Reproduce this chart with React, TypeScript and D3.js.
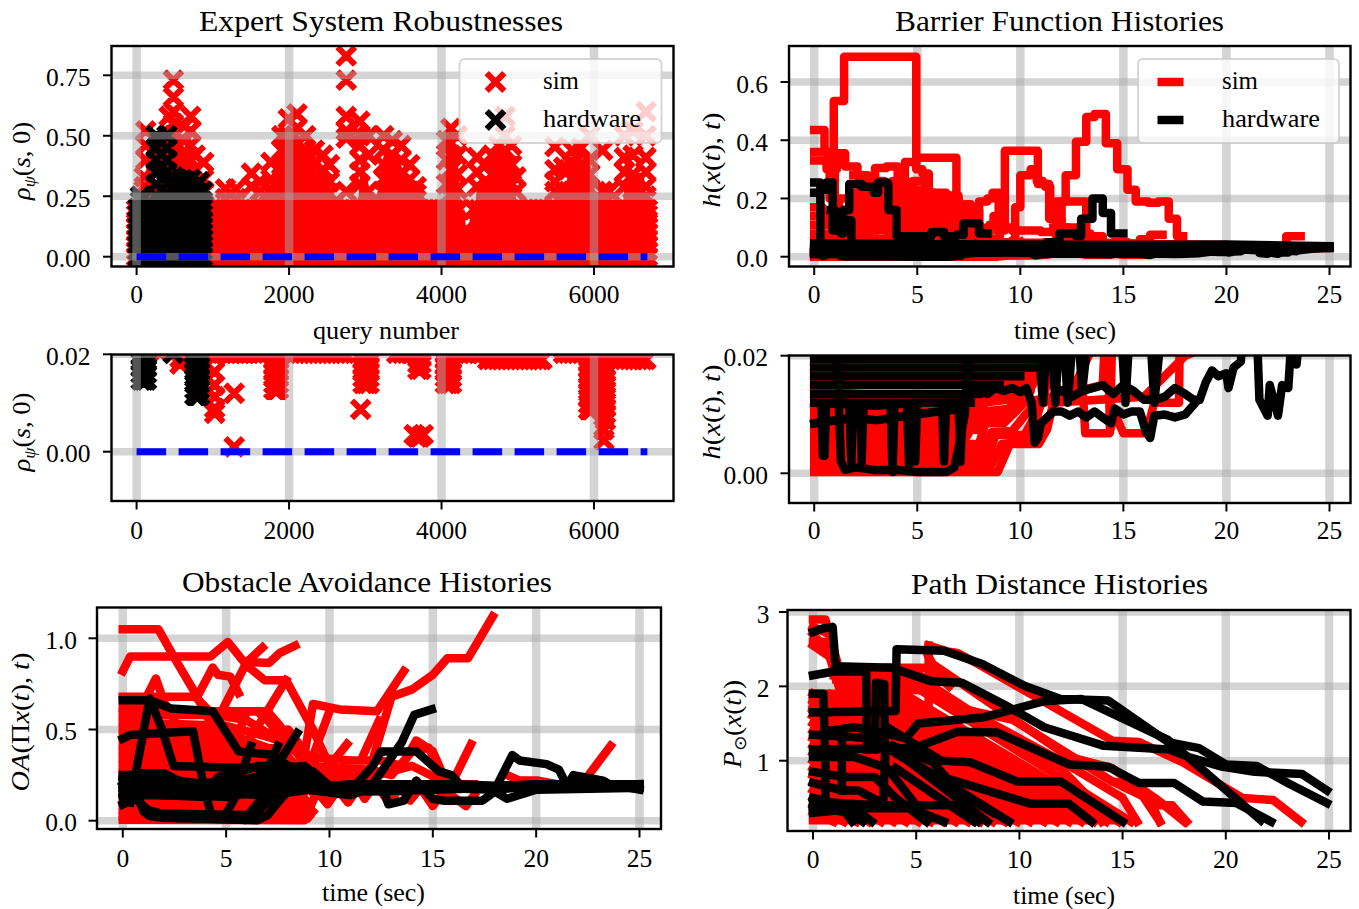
import React from "react";
import * as d3 from "d3";

// ---------- categories / ticks ----------
const queryTicks = [0, 2000, 4000, 6000];
const timeTicks = [0, 5, 10, 15, 20, 25];
const robustTicks = [0, 0.25, 0.5, 0.75];
const robustZoomTicks = [0, 0.02];
const barrierTicks = [0, 0.2, 0.4, 0.6];
const oaTicks = [0, 0.5, 1];
const pathTicks = [1, 2, 3];
const legendNames = ["sim", "hardware"];

// ---------- Expert system robustness (query, value) ----------
const simBaseX = [0,130,260,390,520,650,780,910,1040,1170,1300,1430,1560,1690,1820,1950,2080,2210,2340,2470,2600,2730,2860,2990,3120,3250,3380,3510,3640,3770,3900,4030,4160,4290,4360,4490,4620,4750,4880,5010,5140,5270,5400,5530,5660,5790,5920,6050,6180,6310,6440,6570,6700];
const simBaseMidX = [65,195,325,455,585,715,845,975,1105,1235,1365,1495,1625,1755,1885,2015,2145,2275,2405,2535,2665,2795,2925,3055,3185,3315,3445,3575,3705,3835,3965,4095,4225,4425,4555,4685,4815,4945,5075,5205,5335,5465,5595,5725,5855,5985,6115,6245,6375,6505,6635];
const simBaseRows = [0, 0.05, 0.1];
const simTopX = [0,130,260,390,520,650,780,910,1040,1170,1300,1430,1560,1690,1820,1950,2080,2210,2340,2470,2600,2730,2860,2990,3120,3250,3380,3510,3640,3770,3900,4030,4160,4490,4620,4750,4880,5010,5140,5270,5400,5530,5660,5790,5920,6050,6180,6310,6440,6570,6700];
const simTopRows = [0.15, 0.195];
const simMidRows = [0, 0.195];
const simEdgeX = [0, 6700];
const simEdgeRows = [0.025, 0.075, 0.125, 0.175];
const simMassX = [0,100,140,200,256,400,483,560,625,710,770,880,950,1500,1620,1763,1850,1990,2104,2218,2332,2445,2530,2600,2900,2950,3042,3120,3241,3355,3469,3583,3668,3800,4050,4066,4123,4208,4260,4300,4320,4360,4380,4440,4464,4578,4663,4749,4834,4919,5000,5500,5520,5602,5715,5829,5943,6000,6030,6380,6398,6512,6650,6700];
const simMassTop = [0.195,0.2,0.45,0.3,0.3,0.4,0.6,0.5,0.45,0.5,0.38,0.28,0.195,0.195,0.25,0.3,0.36,0.48,0.52,0.44,0.36,0.34,0.27,0.195,0.2,0.42,0.3,0.195,0.42,0.42,0.38,0.28,0.22,0.195,0.195,0.36,0.48,0.42,0.195,0.195,0.12,0.12,0.195,0.195,0.3,0.3,0.35,0.4,0.44,0.36,0.195,0.195,0.3,0.28,0.38,0.4,0.4,0.3,0.195,0.195,0.3,0.34,0.35,0.195];
const simColumns: [number, number[]][] = [
  [100,[0.33,0.29]],[120,[0.52,0.46,0.4]],[256,[0.42,0.35]],[426,[0.58,0.5,0.42]],[483,[0.73,0.66,0.6,0.55,0.5,0.45,0.4,0.35,0.3]],
  [625,[0.54,0.48,0.38]],[710,[0.58,0.52,0.46,0.4,0.34,0.28]],[770,[0.42,0.36]],[880,[0.39,0.32,0.27]],
  [1166,[0.28,0.24]],[1308,[0.28,0.24]],[1507,[0.345,0.29]],[1620,[0.31,0.27]],[1763,[0.39,0.32,0.27]],[1905,[0.5,0.44,0.38,0.32,0.27]],
  [1990,[0.57,0.5,0.44,0.38,0.32]],[2104,[0.59,0.53,0.47,0.41,0.35,0.29]],[2218,[0.5,0.44,0.38,0.32,0.27]],[2332,[0.44,0.38,0.32,0.27]],
  [2445,[0.42,0.36,0.3]],[2530,[0.38,0.31,0.26]],[2750,[0.83,0.73,0.58,0.52,0.49,0.27]],[2929,[0.56,0.5,0.46,0.4,0.35,0.3]],[3042,[0.5,0.42,0.27]],
  [3241,[0.5,0.44,0.38,0.32,0.27]],[3355,[0.48,0.42,0.36,0.3]],[3469,[0.46,0.4,0.34,0.28]],[3583,[0.38,0.32,0.27]],[3668,[0.29,0.26]],
  [4066,[0.48,0.4,0.3]],[4123,[0.53,0.47,0.42,0.36,0.3,0.26]],[4208,[0.5,0.42,0.34,0.28]],[4464,[0.41,0.35,0.29]],[4578,[0.38,0.31]],
  [4663,[0.42,0.34,0.28]],[4749,[0.46,0.4,0.35,0.3]],[4834,[0.58,0.5,0.44,0.38,0.32,0.27]],[4919,[0.46,0.38,0.3]],[4976,[0.33,0.27]],
  [5488,[0.455,0.36,0.31,0.27]],[5602,[0.37,0.27]],[5715,[0.44,0.38,0.32,0.27]],[5829,[0.45,0.38,0.32,0.27]],[5943,[0.5,0.4,0.34,0.28]],
  [6113,[0.44,0.27]],[6199,[0.27]],[6398,[0.5,0.41,0.35,0.29]],[6512,[0.52,0.42,0.34,0.28]],[6682,[0.6,0.5,0.41,0.35,0.29,0.25]],
];
const hwBaseX = [20,75,130,185,240,295,350,405,460,515,570,625,680,735,790,845,864];
const hwBaseRows = [0, 0.05, 0.1, 0.15, 0.2];
const hwEdgeX = [20, 864];
const hwEdgeRows = [0.025, 0.075, 0.125, 0.175];
const hwMassX = [20, 256, 398, 483, 864];
const hwMassTop = [0.2, 0.2, 0.2, 0.22, 0.2];
const hwColumns: [number, number[]][] = [
  [50,[0.25,0.23]],[150,[0.22]],[256,[0.5,0.45,0.4,0.35,0.3,0.25]],[300,[0.48,0.36]],[398,[0.5,0.45,0.4,0.35,0.3,0.26]],
  [483,[0.33,0.28]],[540,[0.3,0.26]],[600,[0.32,0.27]],[660,[0.3,0.26]],[710,[0.32,0.27]],[770,[0.29,0.25]],[825,[0.31,0.26]],[864,[0.27,0.23]],
];
const zeroLineEnds = [0, 6700];

// ---------- robustness close to zero ----------
const stackTall = [0.0128,0.014,0.0152,0.0164,0.0176,0.0188,0.02,0.0212];
const stackMid = [0.014,0.0152,0.0164,0.0176,0.0188,0.02,0.0212];
const stackShort = [0.0169,0.0181,0.0193,0.0205];
const stackDeep = [0.0086,0.0098,0.011,0.0122,0.0134,0.0146,0.0158,0.017,0.0182,0.0194,0.0206];
const stackBlack = [0.0147,0.016,0.0172,0.0184,0.0196,0.021];
const stackBlackDeep = [0.0116,0.0128,0.014,0.0152,0.0164,0.0176,0.0188,0.02,0.0212];
const simZoomColumns: [number, number[]][] = [
  [310,[0.0202]],[570,[0.018,0.0192]],[1024,[0.0164,0.0137,0.0113,0.0089,0.0079,0.0195]],
  [1280,[0.012,0.001]],
  [1800,stackTall],[1830,stackTall],[1860,stackTall],
  [2940,[0.0087]],[2970,stackMid],[3010,stackMid],[3050,stackMid],
  [3640,[0.0035]],[3680,[0.003]],[3720,[0.003]],[3760,[0.0035]],[3690,stackShort],[3730,stackShort],
  [4050,stackMid],[4090,stackMid],[4130,stackMid],[5400,[0.0215]],
  [5930,stackDeep],[5970,stackDeep],
  [6130,[0.0045,0.0024]],[6150,[0.0065,0.0078,0.009,0.0102,0.0114,0.0126,0.0138,0.015,0.0162,0.0175,0.019,0.0205]],
];
const simZoomRowHighX = [1000,1060,1120,1180,1240,1300,1360,1420,1480,1540,1600,2080,2140,2200,2260,2320,2380,2440,2500,2560,2620,2680,2730,3412,3480,3540,3611,4237,4300,4360,4420,4480,4521,5600,5660,5720,5780,5840,5900,6020,6090,6170];
const simZoomRowLowX = [4606,4670,4730,4790,4850,4910,4970,5030,5090,5150,5210,5270,5317,6340,6400,6460,6520,6580,6640,6680];
const simZoomRowHigh = [0.0202];
const simZoomRowLow = [0.0189];
const hwZoomColumns: [number, number[]][] = [
  [60,stackBlack],[95,stackBlack],[130,stackBlack],[480,[0.0202]],
  [765,stackBlackDeep],[795,stackBlackDeep],[825,stackBlackDeep],
];

// ---------- barrier function histories: flat t,v lists ----------
const simBarrierSteps = [
  [0,0.02,0.95,0.535,1.45,0.687,4.95,0.3,5.25,0.286,5.56,0.22,6.4,0.19,7,0.15,7.6,0.1,8.2,0.05,9,0.02],
  [0,0.435,0.5,0.36,0.75,0.2,1,0.1,1.5,0.05],
  [0,0.36,0.7,0.3,1.1,0.355,1.5,0.31,2.1,0.28,2.6,0.24,3.1,0.14,3.6,0.05],
  [0,0.33,0.6,0.3,1,0.16,1.6,0.09,2,0.05],
  [2.8,0.24,2.95,0.305,3.5,0.31,4.05,0.25,4.4,0.325,4.95,0.34,6.9,0.15,7.3,0.05],
  [8.9,0.09,9.25,0.364,10.85,0.25,11.2,0.24,11.45,0.13,12,0.08,12.5,0.03],
  [7.6,0.05,8,0.19,8.4,0.2,8.65,0.22,8.95,0.1,9.6,0.09,10.5,0.09,11,0.085,12,0.1,12.9,0.07,13.3,0.03],
  [9.2,0.05,9.75,0.17,10,0.28,10.5,0.3,10.8,0.26,11.1,0.25,11.4,0.13,11.95,0.1,12.3,0.03],
  [11.3,0.05,11.75,0.19,12.2,0.28,12.7,0.395,13.2,0.48,13.6,0.49,14.15,0.39,14.7,0.3,15.2,0.23,15.6,0.19,16.2,0.185,16.7,0.19,17.2,0.13,17.6,0.07,17.9,0.07],
  [11.6,0.1,12,0.19,12.95,0.19,13.2,0.08,13.4,0.07,14,0.03],
  [22.7,0.03,22.9,0.07,23.6,0.07],
  [15.6,0.03,15.8,0.06,16.3,0.075,16.9,0.075],
  [14.5,0.03,14.5,0.05,15.1,0.05],
  [0,0.17,0.4,0.12,1.2,0.2,1.8,0.18,2.4,0.22,3,0.2,3.6,0.16,4.2,0.2,4.8,0.26,5.4,0.18,6,0.2,6.6,0.17,7.3,0.15,7.9,0.05],
  [0,0.14,0.8,0.13,1.4,0.15,2,0.17,2.6,0.19,3.2,0.22,3.8,0.26,4.5,0.22,5,0.19,5.8,0.21,6.6,0.21,7,0.17,7.4,0.11,7.9,0.03],
  [0,0.11,1,0.09,1.6,0.12,2.2,0.14,2.8,0.15,3.4,0.14,4,0.17,4.6,0.15,5.2,0.16,6,0.16,7,0.14,7.6,0.16,8,0.07],
  [0,0.08,1,0.07,1.7,0.1,2.4,0.11,3,0.12,3.6,0.1,4.2,0.13,5,0.12,5.6,0.13,6.5,0.12,7.2,0.1,7.9,0.04],
  [0,0.06,1.8,0.08,2.4,0.09,3,0.09,3.8,0.085,4.6,0.1,5.4,0.1,6,0.09,7,0.07,8,0.06,8.8,0.05],
  [0,0.05,2,0.065,3,0.06,4,0.07,5,0.08,6,0.075,7,0.08,8,0.08,8.5,0.11,8.7,0.14,9,0.05],
  [1.9,0.28,2.2,0.1,2.5,0.27,2.8,0.1,3.1,0.26,3.4,0.12,3.7,0.24,4,0.1,4.3,0.22,4.6,0.1,4.9,0.23,5.2,0.1,5.5,0.22,5.8,0.1,6.1,0.2,6.4,0.1,6.7,0.2,7,0.08,7.3,0.18,7.6,0.05],
  [1.75,0.22,2.05,0.12,2.35,0.24,2.65,0.11,2.95,0.22,3.25,0.1,3.55,0.25,3.85,0.12,4.15,0.26,4.45,0.11,4.75,0.2,5.05,0.1,5.35,0.19,5.65,0.1,5.95,0.18,6.25,0.1,6.55,0.18,6.85,0.08,7.15,0.15,7.45,0.05],
];
const simBarrierLow = [
  [0,0.0002,8.9,0.0002,9.5,0.005,10.9,0.005,11.3,0.0075,11.6,0.012,16,0.013,18,0.02,25,0.03],
  [0,0.0014,8.6,0.0014,9.1,0.005,10.5,0.0055,11,0.012,13,0.016,13.15,0.0068,14.3,0.0068,14.6,0.01,15,0.0068,16.1,0.0068,16.5,0.012,17.7,0.012,17.75,0.03,19,0.035],
  [0,0.0026,8.4,0.0026,8.8,0.0065,10.2,0.0065,10.9,0.011,12.3,0.025,15,0.03],
  [0,0.0038,8.2,0.0038,8.6,0.007,9.6,0.0072,10.5,0.011,12.5,0.014,14,0.025,17.5,0.03],
  [0,0.005,8,0.005,8.3,0.0085,9.2,0.0085,10.2,0.012,14,0.015,14.2,0.03,14.35,0.007,14.5,0.03,18,0.04],
  [0,0.0062,7.4,0.0062,7.9,0.0095,9,0.0095,10,0.013,12,0.025,15.5,0.035],
  [0,0.0074,7.9,0.0074,8.2,0.0105,9.5,0.011,10,0.014,12.5,0.03,16,0.04],
  [0,0.0086,7.8,0.0086,8.1,0.012,9.4,0.0125,10.6,0.016,13,0.028,15.5,0.04],
  [0,0.0098,8,0.0098,8.4,0.013,10,0.013,10.8,0.02,12,0.04,15,0.045],
  [0,0.011,8,0.011,8.8,0.014,10.5,0.014,11,0.03,13,0.04],
  [0,0.0122,8,0.0122,9,0.015,10.6,0.015,11,0.04,14,0.045],
  [0,0.0134,8,0.0134,10,0.016,10.8,0.017,11.2,0.035,15.3,0.038],
  [0,0.0146,10,0.0165,11,0.03,12,0.045],
  [0,0.0158,10.5,0.018,11,0.04],
  [0,0.017,10,0.019,11,0.045],
  [0,0.0182,9,0.02,10,0.05],
  [0,0.0194,9,0.021,9.5,0.05],
  [0,0.025,6,0.03,12,0.03,16.5,0.03,21,0.03],
  [0,0.035,6,0.04,12,0.04,14.8,0.045,19.8,0.04],
  [0,0.045,8,0.048,14,0.048,18,0.04],
];
const hwBarrierSteps = [
  [0,0.255,0.3,0.23,0.6,0.255,0.9,0.09,1.3,0.08,1.4,0.16,1.7,0.25,2.3,0.24,2.9,0.22,3.1,0.255,3.55,0.25,3.6,0.16,4,0.07,5.4,0.07,5.7,0.085,6.3,0.07,6.9,0.075,7.25,0.115,8,0.08,8.4,0.08],
  [0.8,0.16,1,0.1,1.3,0.125,1.8,0.04],
  [10.5,0.03,11.3,0.05,11.9,0.08,12.7,0.07,12.95,0.13,13.5,0.2,14,0.15,14.4,0.08,15,0.08],
  [0,0.22,0.3,0.04],
];
const hwBarrierLow = [
  [0,0.03,0.9,0.03,1.1,0.02,1.3,0.002,1.5,0.0006,2,0.001,2.5,0.0008,3,0.0005,4,0.0006,5,0.0002,6.4,0.0002,6.8,0.001,7.1,0.006,7.3,0.01,7.5,0.02,7.8,0.04],
  [0,0.0085,2,0.0095,3,0.009,4.5,0.0098,6,0.0105,7.3,0.011],
  [0,0.012,3,0.0115,5,0.012,7.6,0.012],
  [0,0.0135,4,0.0135,8,0.0135],
  [0,0.015,9,0.015],
  [0,0.0165,10,0.0165],
  [0,0.018,10.6,0.018],
  [0,0.0195,11,0.0195],
  [0.35,0.012,0.42,0.003,0.5,0.003,0.58,0.012,1.7,0.012,1.8,0.002,1.9,0.012,2.25,0.012,2.3,0.002,2.4,0.012,3.7,0.012,3.8,0.0002,3.9,0.012,4.5,0.012,4.6,0.0015,4.7,0.012,4.85,0.012,4.9,0.002,5,0.012,6.2,0.012,6.3,0.002,6.4,0.012,7,0.012,7.1,0.002,7.2,0.012],
  [7.6,0.0135,8,0.0145,8.4,0.0135,8.8,0.0145,9.2,0.014,9.6,0.0145,10,0.0138,10.3,0.0145,10.55,0.012,10.7,0.0052,10.85,0.006,11,0.0085,11.3,0.0095,11.6,0.0105,12,0.0105,12.4,0.0098,12.8,0.0105,13.2,0.0095,13.6,0.0105,14,0.0095,14.4,0.0085,14.6,0.011,15,0.01,15.4,0.0105,15.8,0.0105,16.1,0.007,16.3,0.006,16.5,0.0098,17,0.01,17.5,0.0095,18,0.01,18.5,0.012],
  [12,0.014,12.5,0.013,13,0.014,13.5,0.0145,14,0.015,14.5,0.0135,15,0.015,15.5,0.014,16,0.0125,16.5,0.0125,17,0.013,17.5,0.0145,18,0.0135,18.4,0.0125,18.7,0.0125,19,0.0155,19.3,0.0175,19.6,0.0165,20,0.017,20.1,0.0145,20.35,0.018,20.7,0.019,20.8,0.025,21.5,0.022,21.6,0.0125,22,0.0098,22.1,0.015,22.5,0.0098,22.7,0.015,23,0.0145,23.1,0.02,23.4,0.0185,23.5,0.022,25,0.034],
  [10.8,0.025,11.1,0.012,11.4,0.03,11.7,0.012,12,0.03,12.3,0.012,12.7,0.03,13,0.014,13.5,0.03,14.8,0.03,15.1,0.012,15.4,0.03,16.2,0.03,16.5,0.012,17,0.03],
  [0,0.045,15,0.04,20,0.042,25,0.036],
  [0,0.035,16,0.03,20,0.032,25,0.033],
  [0,0.027,10,0.024,17,0.022,22,0.026,25,0.03],
];

// ---------- obstacle avoidance ----------
const simOA = [
  [0,1.05,1.72,1.05,2.56,0.88,3.5,0.7,4.4,0.5,5,0.45],
  [0,0.82,0.36,0.9,4.24,0.9,5.08,0.98,6,0.85,6.87,0.77,7.9,0.77,9.2,0.5,10,0.3,11,0.2],
  [3.6,0.68,4.35,0.84,4.6,0.8,5.2,0.79,5.6,0.7],
  [4.56,0.55,6,0.87,6.76,0.95],
  [6,0.87,7.08,0.865,7.6,0.92,8.34,0.96],
  [0.8,0.6,1.6,0.78,2,0.65,2.5,0.55],
  [5.9,0.4,7.9,0.77],
  [8.7,0.3,9.2,0.64,10.5,0.61,12.3,0.6,13.6,0.82],
  [8.7,0.2,10,0.6],
  [11.6,0.35,12.4,0.55],
  [12,0.3,13,0.68,14,0.72,15,0.8,15.7,0.89,16.7,0.89,17.9,1.12],
  [15.9,0.2,16.85,0.42],
  [22.2,0.2,23.6,0.41],
  [18.6,0.25,19.2,0.22,20.1,0.22,21,0.2],
  [10,0.3,10.85,0.42],
  [5,0.3,6,0.6,7,0.6,7.6,0.52,8.2,0.42,8.8,0.3],
  [0,0.68,3.5,0.68,4.2,0.6,5.5,0.3],
  [0,0.62,4,0.6,6.5,0.6,7,0.55,9,0.3,11,0.2],
  [0,0.58,4.5,0.58,6,0.55,7,0.48,8,0.5,9,0.35,10.5,0.15,11,0.18],
  [0,0.54,5,0.52,7,0.46,8,0.42,9.2,0.3],
  [0,0.5,5,0.48,7,0.4,8.6,0.38,9.5,0.25],
  [0,0.46,6,0.44,8,0.35,9,0.22],
  [0,0.42,6.5,0.4,8.4,0.3,9,0.18],
  [0,0.38,7,0.36,8.5,0.26,9.2,0.15],
  [0,0.34,7,0.32,8.7,0.22],
  [0,0.3,7,0.28,8.7,0.2],
  [0,0.26,7,0.24,8.8,0.16],
  [0,0.22,8,0.2,8.8,0.12],
  [0,0.18,8,0.16,8.9,0.1],
  [0,0.14,8,0.12,9,0.06],
  [0,0.1,8,0.09,8.9,0.02],
  [0,0.06,8.7,0.05,9,0.02],
  [0,0.025,8.8,0.02],
  [0,0.005,8.8,0.003,9.2,0.05],
  [9,0.35,11,0.33,12.5,0.33,13.5,0.3,14.2,0.44,15,0.38,15.5,0.25],
  [9,0.3,12,0.28,13,0.25,14,0.38,14.8,0.4,15.3,0.28,16,0.2],
  [9,0.25,12,0.24,14,0.3,15.4,0.22,16.5,0.18],
  [9,0.2,15,0.2,17,0.2],
  [8.9,0.03,9.4,0.16,9.9,0.09,10.4,0.17,10.9,0.1,11.4,0.18,11.7,0.12,12.2,0.2,12.9,0.1,13.4,0.18,13.9,0.11,14.4,0.18,15,0.08,15.5,0.16,16,0.13,16.6,0.08,17,0.14],
];
const hwOA = [
  [0,0.66,1.3,0.66,2.35,0.615,4.35,0.6,5.6,0.38,7.3,0.36,8,0.3,9.2,0.27,10,0.19,10.9,0.15,12.1,0.3,12.5,0.38,14.2,0.38,15.3,0.27,15.9,0.25,16.3,0.2,18,0.19,20,0.2,25,0.2],
  [0,0.45,0.36,0.47,3.4,0.49,3.9,0.2,4.3,0.02,4.5,0.01,5.5,0.01],
  [0.36,0.1,1.3,0.67,1.9,0.5,2.46,0.3,5.4,0.29,7.8,0.29,8.8,0.3,9.6,0.22,10.4,0.16,11.5,0.17,12.5,0.19,15,0.18,18,0.17,20,0.19,25,0.18],
  [0,0.25,0.4,0.25,1,0.05,1.3,0.025,2,0.015,4,0.01,6.5,0.002,7,0.03,7.5,0.1,8.3,0.2,9,0.2,10.5,0.16],
  [0,0.2,0.6,0.26,2,0.26,3,0.2,4,0.18,5,0.17,6,0.2,7,0.22,8,0.25,9,0.24,10,0.18,12,0.18,14,0.2,16,0.2,18,0.17,20,0.2,25,0.19],
  [0,0.18,3,0.16,5,0.15,7,0.14,9,0.17,11,0.14,12.5,0.2,12.85,0.09,13.6,0.11,14.2,0.22,15,0.12,15.5,0.11,17.4,0.11,18,0.16,18.6,0.12,20,0.17,25,0.18],
  [0,0.15,2,0.14,4,0.13,4.6,0.24,5.5,0.26,6.5,0.3,7.5,0.3,8,0.24,10,0.19,11,0.2,12,0.2,15,0.2,18,0.19,21,0.2,24,0.19,25,0.17],
  [0,0.13,2,0.18,3.5,0.2,5,0.22,7,0.2,9,0.18],
  [0,0.09,0.6,0.12,1.2,0.06,1.8,0.04,6.4,0.03,6.8,0.08,7.4,0.15],
  [0,0.22,2,0.23,4,0.2,5.5,0.21,7,0.26,8.5,0.27,9.5,0.2,11,0.17],
  [0,0.24,1.5,0.2,3,0.18,5,0.19,7,0.18,9,0.21,10.5,0.18,13,0.19,16,0.18,20,0.18,25,0.2],
  [0,0.17,2,0.2,4,0.16,6,0.17,8,0.22,10,0.17,12,0.16,15,0.17,18,0.18],
  [1,0.14,3,0.14,5,0.13,7,0.17,9,0.2,10.5,0.15,12,0.17],
  [5.4,0.14,6.2,0.41],
  [4.9,0.02,5.8,0.2],
  [6.9,0.2,8.44,0.48],
  [6.5,0.14,7.5,0.41],
  [5.9,0.01,6.7,0.12,7,0.2],
  [12.1,0.2,13.5,0.43,14.1,0.58,14.95,0.61],
  [18,0.17,18.85,0.36,19.2,0.33,20.5,0.31,21.1,0.28,21.5,0.19,21.8,0.25,23.25,0.22,23.7,0.19,25,0.2],
];

// ---------- path distance ----------
const simPath = [
  [0,2.9,0.6,2.9,1.3,2.2,4,2.1,5,2,8,1.5,12,0.9,13.4,0.5,14,0.18],
  [0,2.8,0.8,2.7,1.2,2.2],
  [0,2.6,0.8,2.6,1.1,2.1],
  [1,2.25,3.7,2.25],
  [1,2.15,5.2,2.15,6,1.9],
  [0,2.7,1,2.4,1.5,2.05,5.5,2.05,8,1.6,12,1,15,0.5,15.7,0.18],
  [5.6,2.55,6.5,2.47,7,2.45,8,2.3,14.5,1.27,15.8,1.25,17.9,0.98,20.8,0.5,22.3,0.47,23.65,0.18],
  [5.6,2.4,5.8,2.3,12.4,1.05,14.5,0.9,16.8,0.45,18,0.18],
  [5.6,1.7,5.6,2.55],
  [5.5,1.95,6.5,1.75,8,1.65,9.7,1.55,14.5,0.72,16.3,0.48,16.8,0.18],
  [3.7,2.25,5.6,2.25,6.6,2],
  [9.7,1.55,14.5,0.72,15,0.7,16.8,0.4,17.4,0.4,18.1,0.18],
  [12,1,14.5,0.9,15.6,0.68,16.8,0.18],
  [0,2.55,0.8,2.4,1.3,1.95,5.2,1.95,15.4,0.18],
  [0,1.9,4.4,1.9,14.8,0.18],
  [0,1.85,3.8,1.9,14.2,0.18],
  [0,1.8,3.2,1.9,13.6,0.18],
  [0,1.75,2.6,1.9,13,0.18],
  [0,1.7,2,1.9,12.4,0.18],
  [0,1.65,1.4,1.9,11.8,0.18],
  [0,1.6,0.8,1.9,11.2,0.18],
  [0,1.9,10.5,0.18],
  [0,1.8,9.9,0.18],
  [0,1.7,9.3,0.18],
  [0,1.6,8.7,0.18],
  [0,1.5,8.1,0.18],
  [0,1.4,7.5,0.18],
  [0,1.3,6.9,0.18],
  [0,1.2,6.3,0.18],
  [0,1.1,5.7,0.18],
  [0,1,5.1,0.18],
  [0,0.9,4.5,0.18],
  [0,0.8,3.9,0.18],
  [0,0.7,3.3,0.18],
  [0,0.6,2.7,0.18],
  [0,0.5,2.1,0.18],
  [0,0.4,1.5,0.18],
  [0,0.3,1,0.18],
  [0,0.2,15,0.2],
];
const hwPath = [
  [0,2.73,0.5,2.78,0.95,2.8,1.1,2.27,3.8,2.25,5.7,2.07,7.2,2.05,9.3,1.75,11.2,1.45,14.1,1.2,17.25,1.15,18.2,1.05,19.8,0.92,21.4,0.85,23.7,0.82,24.9,0.6],
  [0,2.15,1,2.2,2.58,2.2,2.6,1.15],
  [0,1.65,4,1.67,4.05,2.5,6.35,2.48,8.2,2.3,10.3,2,12,1.83,14.3,1.81,17.2,1.25,18.7,1.17,20,0.95,21.5,0.93,23,0.7,24.9,0.43],
  [0,1.9,0.5,1.9,0.6,1,0.6,0.5],
  [0.7,1.4,2,1.45,3,1.4,4.5,1.3,5.1,1.5,8.2,1.58,11.2,1.8,13,1.83,17.2,1.28,21.7,0.2],
  [0,1.15,4.9,1.17,7,1.39,8.9,1.38,12.4,0.95,14.3,0.92,15.8,0.7,17.5,0.7,18.9,0.45,20.5,0.43,22.2,0.18],
  [3.6,1.45,6.2,1,7.6,0.98,9.9,0.72,12,0.72,15,0.18],
  [3.9,1.2,5.8,0.98,6.5,0.76,10.55,0.42,12.4,0.42,13.5,0.18],
  [3.9,1.15,8.45,0.18],
  [3.6,1.2,9.5,0.18],
  [4,0.9,7.8,0.18],
  [0,0.45,3,0.4,6.9,0.4,8,0.18],
  [0,0.36,4.7,0.36,6.35,0.18],
  [0,0.3,1.5,0.34,2.4,0.18],
  [0,0.4,1.6,0.3,1.9,0.18],
  [0,0.5,2,0.36,2.85,0.18],
  [0,0.7,1.4,0.6,2.2,0.6,3.4,0.42,3.5,1.1],
  [3,1.15,3.05,2.05,3.45,2.03,3.5,0.9],
  [1.4,1.3,1.4,0.6],
  [0,1.05,2,1.05,3.6,0.9,5,0.4],
  [0,0.85,1.5,0.78,3,0.78,4,0.5,5.5,0.18],
  [0,1.35,3,1.3,4,1.1,8.7,0.3],
];

// ---------- layout ----------
const FONT = "'Liberation Serif', serif";
const RED = "#ff0000";
const BLACK = "#000000";
const BLUE = "#0000ff";
const TICK_SIZE = 25.5;
const LINE_W = 8.5;
const MARK_HALF = 8.8;
const MARK_W = 6;

type Box = { l: number; r: number; t: number; b: number };
const chunk = (a: number[]) => d3.range(0, a.length, 2).map((i) => [a[i], a[i + 1]] as [number, number]);

const box1: Box = { l: 111.5, r: 673.5, t: 46, b: 266.5 };
const box2: Box = { l: 789, r: 1350.5, t: 46, b: 266.5 };
const box3: Box = { l: 111.5, r: 673.5, t: 354.5, b: 501 };
const box4: Box = { l: 789, r: 1350.5, t: 355.5, b: 503 };
const box5: Box = { l: 97, r: 661, t: 607.5, b: 829 };
const box6: Box = { l: 787.5, r: 1350.5, t: 610, b: 831 };

const xQuery = d3.scaleLinear().domain([0, 6000]).range([136.6, 594]);
const yRobust = d3.scaleLinear().domain([0, 0.75]).range([256.7, 75.3]);
const yRobustZoom = d3.scaleLinear().domain([0, 0.02]).range([451.7, 354.3]);
const xBarrier = d3.scaleLinear().domain([0, 25]).range([814.2, 1329.5]);
const yBarrier = d3.scaleLinear().domain([0, 0.6]).range([256.7, 82]);
const yBarrierZoom = d3.scaleLinear().domain([0, 0.02]).range([473.3, 355.7]);
const xOA = d3.scaleLinear().domain([0, 25]).range([122.8, 639.5]);
const yOA = d3.scaleLinear().domain([0, 1]).range([820.7, 638.3]);
const xPath = d3.scaleLinear().domain([0, 25]).range([813, 1329]);
const yPath = d3.scaleLinear().domain([1, 3]).range([760.7, 612]);

function crosses(points: [number, number][], x: any, y: any, half = MARK_HALF) {
  const p = d3.path();
  for (const [a, b] of points) {
    const px = x(a), py = y(b);
    p.moveTo(px - half, py - half);
    p.lineTo(px + half, py + half);
    p.moveTo(px - half, py + half);
    p.lineTo(px + half, py - half);
  }
  return p.toString();
}
const cross = (xs: number[], ys: number[]) => xs.flatMap((a) => ys.map((b) => [a, b] as [number, number]));
const columns = (c: [number, number[]][]) => c.flatMap(([a, ys]) => ys.map((b) => [a, b] as [number, number]));

function Traces({ data, x, y, color, step = false }: any) {
  const gen = d3.line<[number, number]>().x((d) => x(d[0])).y((d) => y(d[1])).curve(step ? d3.curveStepAfter : d3.curveLinear);
  return (
    <g fill="none" stroke={color} strokeWidth={LINE_W} strokeLinejoin="round" strokeLinecap="square">
      {data.map((t: number[], i: number) => <path key={i} d={gen(chunk(t)) as string} />)}
    </g>
  );
}

function Mass({ xs, tops, x, y, color }: any) {
  const gen = d3.area<number>().x((d) => x(d)).y0(y(0)).y1((_, i) => y(tops[i]));
  return <path d={gen(xs) as string} fill={color} />;
}

function Panel({ id, box, x, y, xTicks, yTicks, yFmt, yLabelGap, xBase, data, over }: any) {
  return (
    <g>
      <clipPath id={id}><rect x={box.l} y={box.t} width={box.r - box.l} height={box.b - box.t} /></clipPath>
      <g clipPath={`url(#${id})`}>
        {data}
        <g stroke="#a9a9a9" strokeOpacity={0.5}>
          {xTicks.map((t: number) => <line key={t} x1={x(t)} x2={x(t)} y1={box.t} y2={box.b} strokeWidth={8.5} />)}
          {yTicks.map((t: number) => <line key={t} x1={box.l} x2={box.r} y1={y(t)} y2={y(t)} strokeWidth={7.5} />)}
        </g>
        {over}
      </g>
      <rect x={box.l} y={box.t} width={box.r - box.l} height={box.b - box.t} fill="none" stroke="#000" strokeWidth={2.4} />
      <g stroke="#000" strokeWidth={2}>
        {xTicks.map((t: number) => <line key={t} x1={x(t)} x2={x(t)} y1={box.b} y2={box.b + 8.5} />)}
        {yTicks.map((t: number) => <line key={t} x1={box.l} x2={box.l - 8.5} y1={y(t)} y2={y(t)} />)}
      </g>
      <g fontFamily={FONT} fontSize={TICK_SIZE} fill="#000">
        {xTicks.map((t: number) => <text key={t} x={x(t)} y={xBase} textAnchor="middle">{d3.format("d")(t)}</text>)}
        {yTicks.map((t: number) => <text key={t} x={box.l - yLabelGap} y={y(t) + 10.5} textAnchor="end">{d3.format(yFmt)(t)}</text>)}
      </g>
    </g>
  );
}

function Title({ x, y, w, children }: any) {
  return <text x={x} y={y} fontFamily={FONT} fontSize={28.5} textLength={w} lengthAdjust="spacingAndGlyphs">{children}</text>;
}
function XLabel({ x, y, w, children }: any) {
  return <text x={x} y={y} fontFamily={FONT} fontSize={25} textLength={w} lengthAdjust="spacingAndGlyphs">{children}</text>;
}
function YLabel({ x, cy, len, children }: any) {
  return (
    <text transform={`translate(${x},${cy}) rotate(-90)`} x={-len / 2} y={0} fontFamily={FONT} fontSize={25} textLength={len} lengthAdjust="spacingAndGlyphs">
      {children}
    </text>
  );
}
const I = ({ children }: any) => <tspan fontStyle="italic">{children}</tspan>;
const rhoLabel = (
  <>
    <I>ρ</I>
    <tspan fontStyle="italic" fontSize={17} dy={5}>ψ</tspan>
    <tspan dy={-5}>(</tspan><I>s</I>, 0)
  </>
);
const barrierLabel = <><I>h</I>(<I>x</I>(<I>t</I>), <I>t</I>)</>;

function Legend({ x, y, w, h, markX, textX, kind }: any) {
  const rows = [82, 120];
  const half = MARK_HALF;
  return (
    <g>
      <rect x={x} y={y} width={w} height={h} rx={5} fill="#fff" fillOpacity={0.8} stroke="#cccccc" strokeOpacity={0.8} strokeWidth={2} />
      {legendNames.map((n, i) => {
        const col = i === 0 ? RED : BLACK;
        return (
          <g key={n}>
            {kind === "x"
              ? <path transform={`translate(${markX},${rows[i]})`} d={`M${-half},${-half}L${half},${half}M${-half},${half}L${half},${-half}`} stroke={col} strokeWidth={MARK_W} fill="none" />
              : <line x1={markX - 13} x2={markX + 13} y1={rows[i]} y2={rows[i]} stroke={col} strokeWidth={LINE_W} />}
            <text x={textX} y={i === 0 ? 89 : 127} fontFamily={FONT} fontSize={25} textLength={i === 0 ? 36 : 98} lengthAdjust="spacingAndGlyphs">{n}</text>
          </g>
        );
      })}
    </g>
  );
}

function ZeroLine({ y0 }: any) {
  return (
    <line x1={xQuery(zeroLineEnds[0])} x2={xQuery(zeroLineEnds[1])} y1={y0} y2={y0} stroke={BLUE} strokeWidth={7} strokeDasharray="29.5 12.5" />
  );
}

const simRobust = [...cross(simBaseX, simBaseRows), ...cross(simTopX, simTopRows), ...cross(simBaseMidX, simMidRows), ...cross(simEdgeX, simEdgeRows), ...columns(simColumns)];
const hwRobust = [...cross(hwBaseX, hwBaseRows), ...cross(hwEdgeX, hwEdgeRows), ...columns(hwColumns)];
const simRobustZoom = [...columns(simZoomColumns), ...cross(simZoomRowHighX, simZoomRowHigh), ...cross(simZoomRowLowX, simZoomRowLow)];

export default function App() {
  return (
    <svg width={1359} height={909} style={{ position: "absolute", left: 0, top: 0, background: "#fff" }}>
      <Panel
        id="c1" box={box1} x={xQuery} y={yRobust} xTicks={queryTicks} yTicks={robustTicks} yFmt=".2f" yLabelGap={21} xBase={303}
        data={
          <g>
            <Mass xs={simMassX} tops={simMassTop} x={xQuery} y={yRobust} color={RED} />
            <path d={crosses(simRobust, xQuery, yRobust)} stroke={RED} strokeWidth={MARK_W} fill="none" />
            <Mass xs={hwMassX} tops={hwMassTop} x={xQuery} y={yRobust} color={BLACK} />
            <path d={crosses(hwRobust, xQuery, yRobust)} stroke={BLACK} strokeWidth={MARK_W} fill="none" />
          </g>
        }
        over={<ZeroLine y0={yRobust(0)} />}
      />
      <Legend x={459.5} y={59} w={202} h={84} markX={495.5} textX={543} kind="x" />
      <Title x={199} y={31} w={364}>Expert System Robustnesses</Title>
      <XLabel x={313} y={339} w={146}>query number</XLabel>
      <YLabel x={30} cy={161} len={78}>{rhoLabel}</YLabel>

      <Panel
        id="c2" box={box2} x={xBarrier} y={yBarrier} xTicks={timeTicks} yTicks={barrierTicks} yFmt=".1f" yLabelGap={21} xBase={303}
        over={
          <g>
            <Traces data={simBarrierSteps} x={xBarrier} y={yBarrier} color={RED} step />
            <Traces data={simBarrierLow} x={xBarrier} y={yBarrier} color={RED} />
            <Traces data={hwBarrierSteps} x={xBarrier} y={yBarrier} color={BLACK} step />
            <Traces data={hwBarrierLow} x={xBarrier} y={yBarrier} color={BLACK} />
          </g>
        }
      />
      <Legend x={1138} y={59} w={201} h={84} markX={1170.5} textX={1222} kind="line" />
      <Title x={895} y={31} w={329}>Barrier Function Histories</Title>
      <XLabel x={1014} y={339} w={102}>time (sec)</XLabel>
      <YLabel x={720} cy={160} len={95}>{barrierLabel}</YLabel>

      <Panel
        id="c3" box={box3} x={xQuery} y={yRobustZoom} xTicks={queryTicks} yTicks={robustZoomTicks} yFmt=".2f" yLabelGap={21} xBase={539}
        data={
          <g>
            <path d={crosses(simRobustZoom, xQuery, yRobustZoom)} stroke={RED} strokeWidth={MARK_W} fill="none" />
            <path d={crosses(columns(hwZoomColumns), xQuery, yRobustZoom)} stroke={BLACK} strokeWidth={MARK_W} fill="none" />
          </g>
        }
        over={<ZeroLine y0={yRobustZoom(0)} />}
      />
      <YLabel x={30} cy={432} len={79}>{rhoLabel}</YLabel>

      <Panel
        id="c4" box={box4} x={xBarrier} y={yBarrierZoom} xTicks={timeTicks} yTicks={robustZoomTicks} yFmt=".2f" yLabelGap={21} xBase={539}
        over={
          <g>
            <Traces data={simBarrierSteps} x={xBarrier} y={yBarrierZoom} color={RED} step />
            <Traces data={simBarrierLow} x={xBarrier} y={yBarrierZoom} color={RED} />
            <Traces data={hwBarrierSteps} x={xBarrier} y={yBarrierZoom} color={BLACK} step />
            <Traces data={hwBarrierLow} x={xBarrier} y={yBarrierZoom} color={BLACK} />
          </g>
        }
      />
      <YLabel x={720} cy={412} len={95}>{barrierLabel}</YLabel>

      <Panel
        id="c5" box={box5} x={xOA} y={yOA} xTicks={timeTicks} yTicks={oaTicks} yFmt=".1f" yLabelGap={20} xBase={867}
        over={
          <g>
            <Traces data={simOA} x={xOA} y={yOA} color={RED} />
            <Traces data={hwOA} x={xOA} y={yOA} color={BLACK} />
          </g>
        }
      />
      <Title x={182} y={592} w={370}>Obstacle Avoidance Histories</Title>
      <XLabel x={322} y={901} w={103}>time (sec)</XLabel>
      <YLabel x={29} cy={722} len={139}><I>OA</I>(Π<I>x</I>(<I>t</I>), <I>t</I>)</YLabel>

      <Panel
        id="c6" box={box6} x={xPath} y={yPath} xTicks={timeTicks} yTicks={pathTicks} yFmt="d" yLabelGap={18} xBase={868}
        over={
          <g>
            <Traces data={simPath} x={xPath} y={yPath} color={RED} />
            <Traces data={hwPath} x={xPath} y={yPath} color={BLACK} />
          </g>
        }
      />
      <Title x={911} y={594} w={297}>Path Distance Histories</Title>
      <XLabel x={1013} y={904} w={102}>time (sec)</XLabel>
      <YLabel x={741} cy={724} len={88}>
        <I>P</I><tspan fontSize={17} dy={5}>⊙</tspan><tspan dy={-5}>(</tspan><I>x</I>(<I>t</I>))
      </YLabel>
    </svg>
  );
}
